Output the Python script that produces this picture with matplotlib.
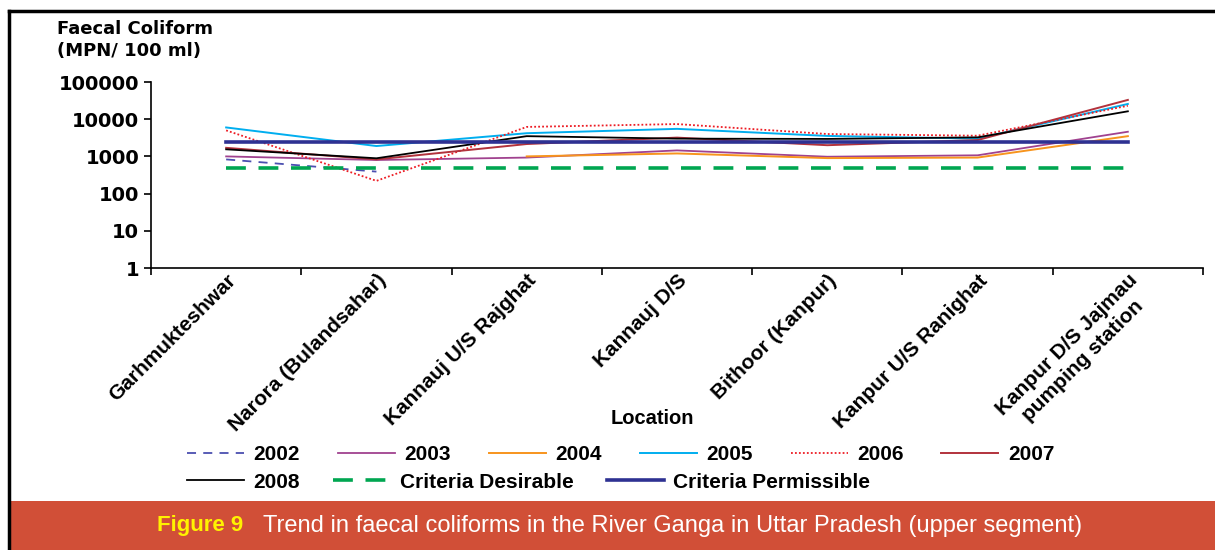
import numpy as np
import matplotlib
matplotlib.use('Agg')
import matplotlib.pyplot as plt
from matplotlib.patches import Rectangle
from matplotlib.lines import Line2D

# ---- data (log scale) ----
locations = ['Garhmukteshwar', 'Narora (Bulandsahar)', 'Kannauj U/S Rajghat',
             'Kannauj D/S', 'Bithoor (Kanpur)', 'Kanpur U/S Ranighat',
             'Kanpur D/S Jajmau\npumping station']
nan = np.nan
fc_2002 = [830, 390, nan, nan, nan, nan, nan]
fc_2003 = [1000, 800, 930, 1450, 980, 1070, 4600]
fc_2004 = [nan, nan, 1000, 1200, 900, 930, 3500]
fc_2005 = [6000, 1900, 4200, 5500, 3550, 3000, 25700]
fc_2006 = [5000, 220, 6200, 7400, 4000, 3600, 23000]
fc_2007 = [1700, 830, 2150, 3200, 2000, 2750, 33000]
fc_2008 = [1550, 890, 3500, 3000, 2950, 3250, 16300]
criteria_desirable = [500] * 7
criteria_permissible = [2500] * 7

series = [
    ('2002', fc_2002, dict(color='#4B4FB0', lw=1.3, ls=(0, (5, 4)))),
    ('2003', fc_2003, dict(color='#A0428F', lw=1.3)),
    ('2004', fc_2004, dict(color='#F7941D', lw=1.4)),
    ('2005', fc_2005, dict(color='#00AEEF', lw=1.4)),
    ('2006', fc_2006, dict(color='#ED1C24', lw=1.3, ls=(0, (1, 1.2)))),
    ('2007', fc_2007, dict(color='#B2323C', lw=1.4)),
    ('2008', fc_2008, dict(color='black', lw=1.3)),
    ('Criteria Desirable', criteria_desirable, dict(color='#00A651', lw=2.6, ls=(0, (5.5, 3.5)))),
    ('Criteria Permissible', criteria_permissible, dict(color='#2E3192', lw=2.6)),
]

label_font = 'Liberation Sans'

fig = plt.figure(figsize=(12.15, 5.5), dpi=100)
ax = fig.add_axes([151 / 1215, 1 - 268 / 550, (1203 - 151) / 1215, (268 - 82) / 550])

x = np.arange(len(locations))
handles = {}
for name, vals, style in series:
    ln, = ax.plot(x, vals, label=name, **style)
    handles[name] = ln

ax.set_yscale('log')
ax.set_ylim(1, 100000)
ax.set_xlim(-0.5, len(locations) - 0.5)
ax.set_yticks([1, 10, 100, 1000, 10000, 100000])
ax.set_yticklabels(['1', '10', '100', '1000', '10000', '100000'],
                   fontsize=14, fontweight='bold')
ax.yaxis.set_minor_locator(matplotlib.ticker.NullLocator())

# category boundaries as ticks, labels at centres
ax.set_xticks(np.arange(-0.5, len(locations), 1.0))
ax.set_xticklabels([])
ax.set_xticks(x, minor=True)
ax.set_xticklabels(locations, minor=True, rotation=45, ha='right', va='top',
                   rotation_mode='anchor', multialignment='center',
                   fontsize=15, family=label_font, fontweight='bold')
ax.tick_params(axis='x', which='minor', length=0, pad=2)
ax.tick_params(axis='both', which='major', direction='out', length=5, width=1.2)
for s in ('top', 'right'):
    ax.spines[s].set_visible(False)
for s in ('left', 'bottom'):
    ax.spines[s].set_linewidth(1.2)

fig.text(652 / 1215, 1 - 418 / 550, 'Location', ha='center', va='center',
         fontsize=14.5, fontweight='bold', family=label_font)
fig.text(57 / 1215, 1 - 20 / 550, 'Faecal Coliform\n(MPN/ 100 ml)', ha='left', va='top',
         fontsize=13, fontweight='bold', linespacing=1.25)

# legend in two rows like the original
row1 = ['2002', '2003', '2004', '2005', '2006', '2007']
row2 = ['2008', 'Criteria Desirable', 'Criteria Permissible']
leg_kw = dict(frameon=False, handlelength=2.74, handletextpad=0.45,
              prop={'family': label_font, 'size': 15, 'weight': 'bold'},
              loc='center left', borderaxespad=0, borderpad=0)
fig.legend([handles[n] for n in row1], row1, ncol=6, columnspacing=1.82,
           bbox_to_anchor=(187 / 1215, 1 - 455 / 550), **leg_kw)
fig.legend([handles[n] for n in row2], row2, ncol=3, columnspacing=1.6,
           bbox_to_anchor=(187 / 1215, 1 - 482 / 550), **leg_kw)

# frame and caption banner
fig.add_artist(Line2D([9 / 1215, 9 / 1215], [0, 1 - 11 / 550], color='black', lw=2.5))
fig.add_artist(Line2D([9 / 1215, 1], [1 - 11 / 550, 1 - 11 / 550], color='black', lw=2.5))
fig.add_artist(Rectangle((10 / 1215, 0), 1, 49 / 550, color='#D14F37', lw=0))
fig.text(157 / 1215, 1 - 526 / 550, 'Figure 9', color='#FFF200', fontsize=16,
         fontweight='bold', family=label_font, ha='left', va='center')
fig.text(263 / 1215, 1 - 526 / 550,
         'Trend in faecal coliforms in the River Ganga in Uttar Pradesh (upper segment)',
         color='white', fontsize=17, family=label_font, ha='left', va='center')

fig.savefig('out.png', dpi=100)
